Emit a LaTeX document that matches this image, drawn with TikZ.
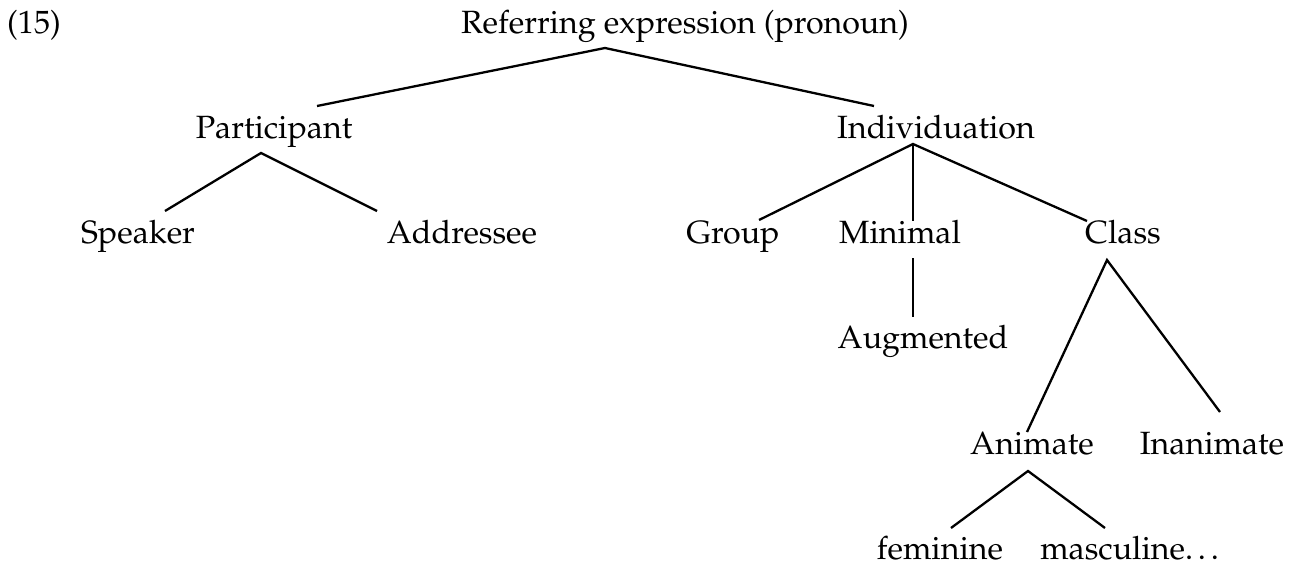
\documentclass[tikz,border=0pt]{standalone}
\usepackage[T1]{fontenc}
\usepackage{mathpazo}
\begin{document}
\begin{tikzpicture}[x=1pt,y=-1pt,
  lbl/.style={anchor=base,inner sep=0pt,font=\fontsize{32.2}{38}\selectfont},
  edge/.style={line width=2.3pt},
  thin/.style={line width=1.3pt}]
\useasboundingbox (0,0) rectangle (1295,565);
% labels
\node[lbl,anchor=base west] (ex) at (7,33) {(15)};
\node[lbl] (root) at (685,33) {Referring expression (pronoun)};
\node[lbl] (part) at (274,138) {Participant};
\node[lbl] (indiv) at (936,138) {Individuation};
\node[lbl] (spk) at (138,243) {Speaker};
\node[lbl] (adr) at (462,243) {Addressee};
\node[lbl] (grp) at (733,243) {Group};
\node[lbl] (min) at (900,243) {Minimal};
\node[lbl] (cls) at (1123,243) {Class};
\node[lbl] (aug) at (923,348) {Augmented};
\node[lbl] (anim) at (1032,454) {Animate};
\node[lbl] (inan) at (1212,454) {Inanimate};
\node[lbl] (fem) at (940,559) {feminine};
\node[lbl] (masc) at (1132,559) {masculine\dots};
% branch points
\coordinate (rootB) at (605,48);
\coordinate (partT) at (317,106);
\coordinate (indivT) at (874,106);
\coordinate (partB) at (261,153);
\coordinate (spkT) at (165,211);
\coordinate (adrT) at (377,211);
\coordinate (indivB) at (913,144);
\coordinate (grpT) at (759,220);
\coordinate (minT) at (913,221);
\coordinate (clsT) at (1087,221);
\coordinate (minB) at (913,258);
\coordinate (augT) at (913,317);
\coordinate (clsB) at (1107,260);
\coordinate (animT) at (1027,432);
\coordinate (inanT) at (1220,412);
\coordinate (animB) at (1028,471);
\coordinate (femT) at (951,528);
\coordinate (mascT) at (1105,528);
% connectors
\draw[edge] (partT) -- (rootB) -- (indivT);
\draw[edge] (spkT) -- (partB) -- (adrT);
\draw[edge] (grpT) -- (indivB) -- (clsT);
\draw[thin] (indivB) -- (minT);
\draw[thin] (minB) -- (augT);
\draw[edge] (animT) -- (clsB) -- (inanT);
\draw[edge] (femT) -- (animB) -- (mascT);
\end{tikzpicture}
\end{document}
